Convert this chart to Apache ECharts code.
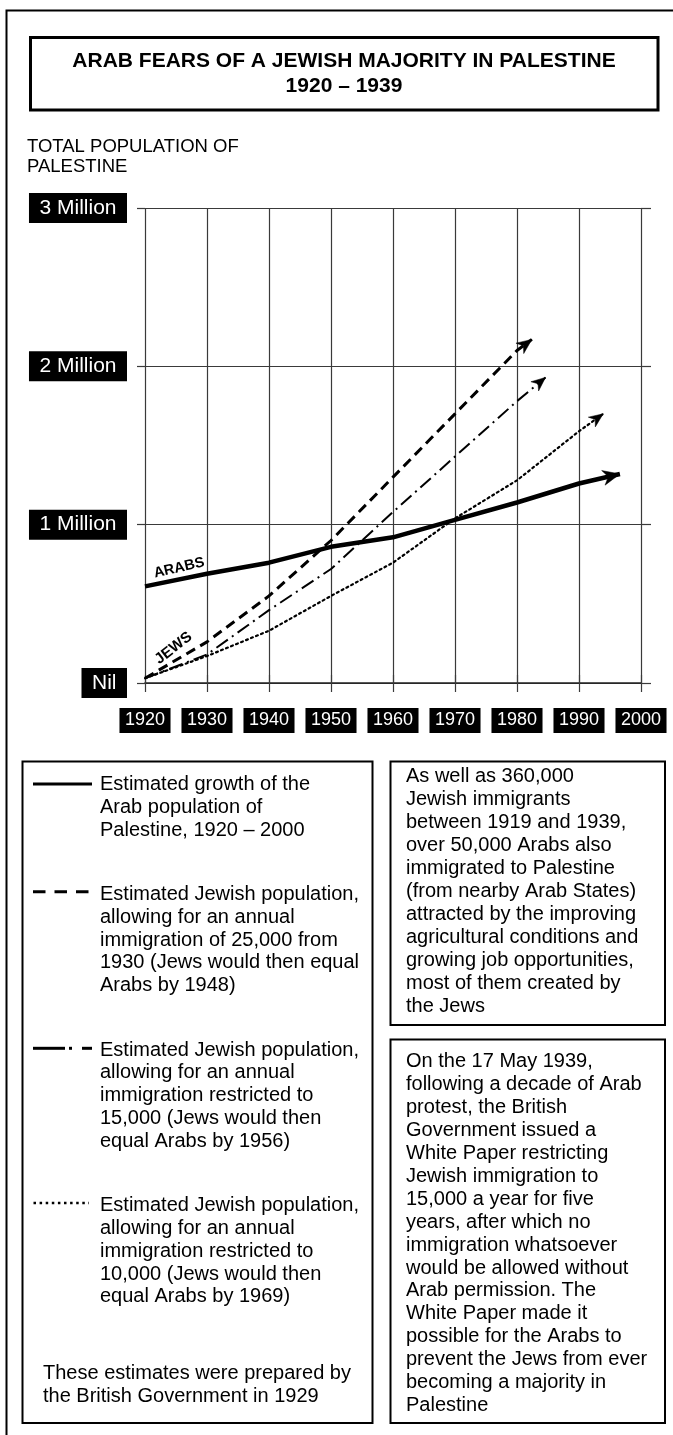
<!DOCTYPE html>
<html><head><meta charset="utf-8">
<script src="https://cdn.jsdelivr.net/npm/echarts@6/dist/echarts.min.js"></script>
<style>html,body{margin:0;padding:0;background:#fff}#c{width:673px;height:1435px}</style>
</head><body><div id="c"></div>
<script>
// ---------- data ----------
const xTicks = [1920, 1930, 1940, 1950, 1960, 1970, 1980, 1990, 2000];
const yTickLabels = ['Nil', '1 Million', '2 Million', '3 Million'];

const arabYears = [1920, 1930, 1940, 1950, 1960, 1970, 1980, 1990, 1996.6];
const arabPop   = [0.61, 0.69, 0.76, 0.86, 0.92, 1.03, 1.14, 1.26, 1.32];

const jews25Years = [1920, 1930, 1940, 1950, 1960, 1970, 1980, 1982.4];
const jews25Pop   = [0.03, 0.26, 0.55, 0.90, 1.30, 1.70, 2.10, 2.17];

const jews15Years = [1920, 1930, 1940, 1950, 1960, 1970, 1980, 1984.6];
const jews15Pop   = [0.03, 0.18, 0.46, 0.72, 1.08, 1.43, 1.78, 1.93];

const jews10Years = [1920, 1930, 1940, 1950, 1960, 1970, 1980, 1990, 1993.9];
const jews10Pop   = [0.03, 0.17, 0.33, 0.55, 0.76, 1.04, 1.28, 1.59, 1.70];

const titleText = 'ARAB FEARS OF A JEWISH MAJORITY IN PALESTINE\n1920 – 1939';
const yAxisTitle = 'TOTAL POPULATION OF\nPALESTINE';
const legendTexts = [
  'Estimated growth of the\nArab population of\nPalestine, 1920 – 2000',
  'Estimated Jewish population,\nallowing for an annual\nimmigration of 25,000 from\n1930 (Jews would then equal\nArabs by 1948)',
  'Estimated Jewish population,\nallowing for an annual\nimmigration restricted to\n15,000 (Jews would then\nequal Arabs by 1956)',
  'Estimated Jewish population,\nallowing for an annual\nimmigration restricted to\n10,000 (Jews would then\nequal Arabs by 1969)'
];
const footerText = 'These estimates were prepared by\nthe British Government in 1929';
const note1 = 'As well as 360,000\nJewish immigrants\nbetween 1919 and 1939,\nover 50,000 Arabs also\nimmigrated to Palestine\n(from nearby Arab States)\nattracted by the improving\nagricultural conditions and\ngrowing job opportunities,\nmost of them created by\nthe Jews';
const note2 = 'On the 17 May 1939,\nfollowing a decade of Arab\nprotest, the British\nGovernment issued a\nWhite Paper restricting\nJewish immigration to\n15,000 a year for five\nyears, after which no\nimmigration whatsoever\nwould be allowed without\nArab permission. The\nWhite Paper made it\npossible for the Arabs to\nprevent the Jews from ever\nbecoming a majority in\nPalestine';
const arabsLabel = {text: 'ARABS', at: [1925.5, 0.727], rot: 13};
const jewsLabel  = {text: 'JEWS',  at: [1924.6, 0.22], rot: 38};

// ---------- chart ----------
const F = '"Liberation Sans", Arial, sans-serif';
const chart = echarts.init(document.getElementById('c'), null, {renderer: 'canvas'});
const pairs = (xs, ys) => xs.map((x, i) => [x, ys[i]]);
const gridCol = '#3a3a3a';

function lineSeries(name, xs, ys, ls) {
  return {
    name, type: 'line', data: pairs(xs, ys), symbol: 'none', showSymbol: false,
    smooth: false, clip: false, animation: false, silent: true, z: 5,
    lineStyle: Object.assign({color: '#000'}, ls)
  };
}

function txt(x, y, text, opts) {
  return {
    type: 'text', x, y, silent: true, z: 20,
    style: Object.assign({
      text, fill: '#000', fontSize: 20, fontFamily: F,
      align: 'left', textAlign: 'left', verticalAlign: 'top', textVerticalAlign: 'top', lineHeight: 22.8
    }, opts || {})
  };
}
function box(x, y, w, h, lw) {
  return {type: 'rect', silent: true, z: 10, shape: {x, y, width: w, height: h},
    style: {fill: 'none', stroke: '#000', lineWidth: lw}};
}
function seg(x1, y1, x2, y2, lw, dash) {
  return {type: 'line', silent: true, z: 10, shape: {x1, y1, x2, y2},
    style: {stroke: '#000', lineWidth: lw, lineDash: dash || null}};
}

const baseGraphics = [
  box(6.5, 10.5, 720, 1460, 2),
  box(30.5, 37.5, 627.5, 72.5, 3),
  txt(344, 49.5, titleText, {fontSize: 21, fontWeight: 'bold', align: 'center', textAlign: 'center', lineHeight: 24.3}),
  txt(27, 136.7, yAxisTitle, {fontSize: 18.5, lineHeight: 20}),
  box(22.5, 761.5, 350, 661.5, 2),
  box(390.5, 761.5, 274.5, 263.5, 2),
  box(390.5, 1039.5, 274.5, 383.5, 2),
  seg(33, 784, 92, 784, 3),
  seg(33, 891.7, 92, 891.7, 3, [12.5, 9]),
  seg(33, 1048.3, 65, 1048.3, 3), seg(69, 1048.3, 72, 1048.3, 3), seg(82, 1048.3, 92, 1048.3, 3),
  seg(33.5, 1203, 89, 1203, 2.5, [2.5, 3.6]),
  txt(100, 773.4, legendTexts[0], {lineHeight: 22.8}),
  txt(100, 883.6, legendTexts[1], {lineHeight: 22.6}),
  txt(100, 1038.6, legendTexts[2], {lineHeight: 22.9}),
  txt(100, 1194.6, legendTexts[3], {lineHeight: 22.7}),
  txt(43, 1361.6, footerText, {lineHeight: 23}),
  txt(406, 764.5, note1, {lineHeight: 23}),
  txt(406, 1050.5, note2, {lineHeight: 22.9})
];

const option = {
  animation: false,
  backgroundColor: '#fff',
  grid: [{left: 145, right: 32, top: 208, bottom: 752, containLabel: false}],
  xAxis: [{
    type: 'value', min: 1920, max: 2000, interval: 10, position: 'bottom',
    axisLine: {show: true, onZero: false, lineStyle: {color: '#222', width: 1.6}},
    axisTick: {show: true, length: 9, inside: false, lineStyle: {color: gridCol, width: 1.2}},
    splitLine: {show: true, lineStyle: {color: gridCol, width: 1.2}},
    axisLabel: {
      margin: 25, color: '#fff', backgroundColor: '#000', padding: [3.5, 5.5],
      fontSize: 18, fontFamily: F, lineHeight: 18,
      formatter: v => String(xTicks[xTicks.indexOf(v)])
    }
  }, {
    type: 'value', min: 1920, max: 2000, interval: 10, position: 'top',
    axisLine: {show: false}, axisLabel: {show: false}, splitLine: {show: false},
    axisTick: {show: true, length: 8, inside: false, lineStyle: {color: gridCol, width: 1.2}}
  }],
  yAxis: [{
    type: 'value', min: 0, max: 3, interval: 1, position: 'left',
    axisLine: {show: false},
    axisTick: {show: true, length: 8, inside: false, lineStyle: {color: gridCol, width: 1.2}},
    splitLine: {show: true, lineStyle: {color: gridCol, width: 1.2}},
    axisLabel: {
      margin: 18, color: '#fff', backgroundColor: '#000', padding: [4.5, 10.5],
      fontSize: 21, fontFamily: F, lineHeight: 21,
      formatter: v => yTickLabels[v]
    }
  }, {
    type: 'value', min: 0, max: 3, interval: 1, position: 'right',
    axisLine: {show: false}, axisLabel: {show: false}, splitLine: {show: false},
    axisTick: {show: true, length: 10, inside: false, lineStyle: {color: gridCol, width: 1.2}}
  }],
  series: [
    lineSeries('Arabs', arabYears, arabPop, {width: 4.5, type: 'solid'}),
    lineSeries('Jews 25,000', jews25Years, jews25Pop, {width: 3, type: [10, 6]}),
    lineSeries('Jews 15,000', jews15Years, jews15Pop, {width: 2, type: [14, 5, 2, 5]}),
    lineSeries('Jews 10,000', jews10Years, jews10Pop, {width: 2.2, type: [2, 3.4], cap: 'round'})
  ],
  graphic: {elements: baseGraphics}
};
chart.setOption(option);

// ---------- arrowheads & rotated labels (positions computed through the axes) ----------
function arrowHead(xs, ys, L, W) {
  const n = xs.length;
  const a = chart.convertToPixel({xAxisIndex: 0, yAxisIndex: 0}, [xs[n - 2], ys[n - 2]]);
  const t = chart.convertToPixel({xAxisIndex: 0, yAxisIndex: 0}, [xs[n - 1], ys[n - 1]]);
  const dx = t[0] - a[0], dy = t[1] - a[1], len = Math.hypot(dx, dy);
  const ux = dx / len, uy = dy / len, nx = -uy, ny = ux;
  const bx = t[0] - ux * L, by = t[1] - uy * L;
  const pts = [
    [t[0], t[1]],
    [bx + nx * W / 2, by + ny * W / 2],
    [t[0] - ux * L * 0.7, t[1] - uy * L * 0.7],
    [bx - nx * W / 2, by - ny * W / 2]
  ];
  return {type: 'polygon', silent: true, z: 15, shape: {points: pts}, style: {fill: '#000', stroke: '#000', lineWidth: 0.5}};
}
function rotLabel(l, size) {
  const p = chart.convertToPixel({xAxisIndex: 0, yAxisIndex: 0}, l.at);
  return {type: 'text', x: p[0], y: p[1], rotation: l.rot * Math.PI / 180, silent: true, z: 20,
    style: {text: l.text, fill: '#000', fontSize: size, fontWeight: 'bold', fontFamily: F,
      align: 'center', textAlign: 'center', verticalAlign: 'middle', textVerticalAlign: 'middle'}};
}
chart.setOption({
  graphic: {elements: baseGraphics.concat([
    arrowHead(arabYears, arabPop, 17, 15),
    arrowHead(jews25Years, jews25Pop, 15, 13),
    arrowHead(jews15Years, jews15Pop, 14, 12),
    arrowHead(jews10Years, jews10Pop, 14, 12),
    rotLabel(arabsLabel, 14.5), rotLabel(jewsLabel, 15)
  ])}
});
</script></body></html>
